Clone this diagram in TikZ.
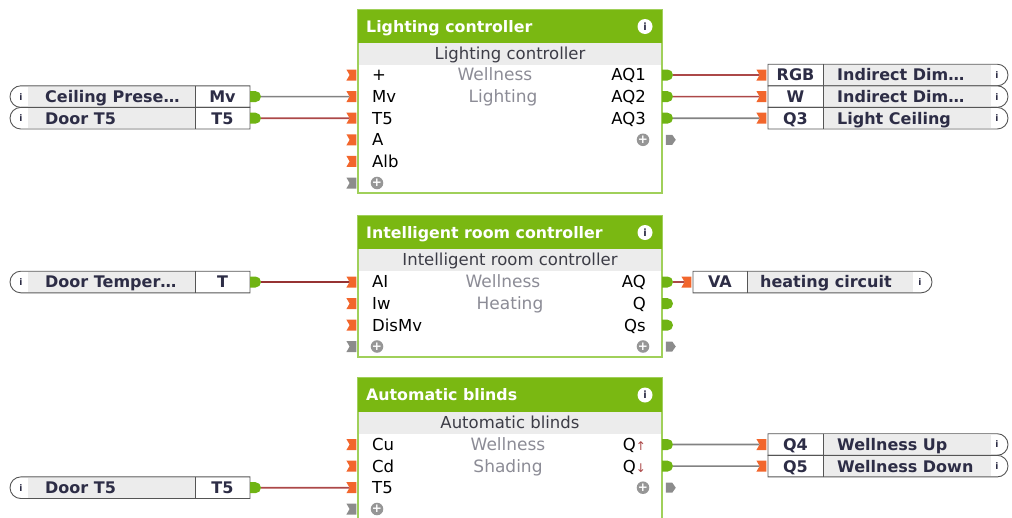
\documentclass[tikz,border=0pt]{standalone}
\usepackage{fontspec}
\setmainfont{DejaVu Sans}
\usepackage{tikz}
\usetikzlibrary{shapes.misc,shapes.symbols,positioning}
\usepackage{xcolor}
\definecolor{hdrgreen}{RGB}{122,184,18}
\definecolor{blkborder}{RGB}{160,208,90}
\definecolor{bandgrey}{RGB}{236,236,236}
\definecolor{pinorange}{RGB}{242,102,44}
\definecolor{pingreen}{RGB}{112,180,20}
\definecolor{pingrey}{RGB}{140,140,140}
\definecolor{addgrey}{RGB}{150,150,150}
\definecolor{wirered}{RGB}{172,72,72}
\definecolor{wiredark}{RGB}{150,50,50}
\definecolor{wiregrey}{RGB}{130,130,130}
\definecolor{boxline}{RGB}{85,85,85}
\definecolor{txtdark}{RGB}{45,45,70}
\definecolor{subtxt}{RGB}{60,60,70}
\definecolor{functxt}{RGB}{140,140,150}
\newcommand{\fsz}[1]{\fontsize{#1}{#1}\selectfont}

\begin{document}
\begin{tikzpicture}[x=1pt, y=-1pt,
    txt/.style={inner sep=0, text height=11.8pt, text depth=0pt},
    blk/.style={rectangle, draw=blkborder, line width=1.5pt, fill=white, inner sep=0},
    hdr/.style={rectangle, fill=hdrgreen, inner sep=0},
    band/.style={rectangle, fill=bandgrey, inner sep=0},
    hdrtext/.style={txt, anchor=west, text=white, font=\bfseries\fsz{15.8}},
    subtext/.style={txt, text=subtxt, font=\fsz{16.5}},
    inlbl/.style={txt, anchor=west, font=\fsz{16.5}},
    outlbl/.style={txt, anchor=east, font=\fsz{16.5}},
    func/.style={txt, text=functxt, font=\fsz{17}},
    info/.style={circle, fill=white, minimum size=15pt, inner sep=0, text=txtdark, font=\bfseries\fsz{10}},
    addbtn/.style={circle, fill=addgrey, minimum size=12pt, inner sep=0, text=white, font=\bfseries\fsz{12}},
    inpin/.style={signal, signal to=nowhere, signal from=west, signal pointer angle=120,
        fill=pinorange, minimum width=10pt, minimum height=11pt, inner sep=0},
    inpingrey/.style={inpin, fill=pingrey},
    outpin/.style={rounded rectangle, rounded rectangle west arc=none, fill=pingreen,
        minimum width=11pt, minimum height=11pt, inner sep=0},
    outpingrey/.style={signal, signal to=east, signal pointer angle=110, fill=pingrey,
        minimum width=10pt, minimum height=10pt, inner sep=0},
    inbox/.style={rounded rectangle, rounded rectangle east arc=none, draw=boxline,
        line width=0.9pt, fill=white, minimum width=240pt, minimum height=21.6pt, inner sep=0},
    outbox/.style={rounded rectangle, rounded rectangle west arc=none, draw=boxline,
        line width=0.9pt, fill=white, minimum width=240pt, minimum height=21.6pt, inner sep=0},
    boxfill/.style={rectangle, fill=bandgrey, minimum height=20pt, inner sep=0},
    boxtext/.style={txt, anchor=west, text=txtdark, font=\bfseries\fsz{16}},
    boxlbl/.style={txt, text=txtdark, font=\bfseries\fsz{16}},
    boxinfo/.style={inner sep=0, text height=6.8pt, text depth=0pt, text=txtdark, font=\bfseries\fsz{9}},
    wire/.style={line width=1.6pt, wiregrey},
    wirean/.style={line width=1.6pt, wirered}
]
    \clip (0,0) rectangle (1012,517);

    % Lighting controller
    \node[blk, minimum width=304pt, minimum height=183pt] (lc) at (510,101.5) {};
    \node[hdr, minimum width=304pt, minimum height=33pt] (lc-hdr) at (510,26.5) {};
    \node[band, minimum width=302pt, minimum height=21.5pt] (lc-band) at (510,53.8) {};
    \node[hdrtext] (lc-title) at (366,26.5) {Lighting controller};
    \node[info] (lc-info) at (645,26.5) {i};
    \node[subtext] (lc-sub) at (510,53.5) {Lighting controller};
    \node[func] (lc-f1) at (495,75) {Wellness};
    \node[func] (lc-f2) at (503,96.6) {Lighting};
    \foreach \lbl [count=\k] in {+,Mv,T5,A,Alb} {
        \node[inpin] (lc-i\k) at (353,53.4+21.6*\k) {};
        \node[inlbl] at (372,53.4+21.6*\k) {\lbl};
    }
    \node[inpingrey] (lc-iadd) at (353,183) {};
    \node[addbtn] (lc-add) at (377,183) {+};
    \foreach \lbl [count=\k] in {AQ1,AQ2,AQ3} {
        \node[outpin] (lc-o\k) at (667.5,53.4+21.6*\k) {};
        \node[outlbl] at (646,53.4+21.6*\k) {\lbl};
    }
    \node[addbtn] (lc-oadd) at (643,139.8) {+};
    \node[outpingrey] (lc-opin) at (669,139.8) {};

    % Intelligent room controller
    \node[blk, minimum width=304pt, minimum height=141pt] (irc) at (510,286.5) {};
    \node[hdr, minimum width=304pt, minimum height=33pt] (irc-hdr) at (510,232.5) {};
    \node[band, minimum width=302pt, minimum height=22pt] (irc-band) at (510,260) {};
    \node[hdrtext] (irc-title) at (366,232.5) {Intelligent room controller};
    \node[info] (irc-info) at (645,232.5) {i};
    \node[subtext] (irc-sub) at (510,259.5) {Intelligent room controller};
    \node[func] (irc-f1) at (503,282) {Wellness};
    \node[func] (irc-f2) at (510,303.6) {Heating};
    \foreach \lbl [count=\k] in {AI,Iw,DisMv} {
        \node[inpin] (irc-i\k) at (353,260.4+21.6*\k) {};
        \node[inlbl] at (372,260.4+21.6*\k) {\lbl};
    }
    \node[inpingrey] (irc-iadd) at (353,346.5) {};
    \node[addbtn] (irc-add) at (377,346.5) {+};
    \foreach \lbl [count=\k] in {AQ,Q,Qs} {
        \node[outpin] (irc-o\k) at (667.5,260.4+21.6*\k) {};
        \node[outlbl] at (646,260.4+21.6*\k) {\lbl};
    }
    \node[addbtn] (irc-oadd) at (643,346.5) {+};
    \node[outpingrey] (irc-opin) at (669,346.5) {};

    % Automatic blinds
    \node[blk, minimum width=304pt, minimum height=152pt] (ab) at (510,454) {};
    \node[hdr, minimum width=304pt, minimum height=34pt] (ab-hdr) at (510,395) {};
    \node[band, minimum width=302pt, minimum height=22pt] (ab-band) at (510,423) {};
    \node[hdrtext] (ab-title) at (366,395) {Automatic blinds};
    \node[info] (ab-info) at (645,395) {i};
    \node[subtext] (ab-sub) at (510,422.5) {Automatic blinds};
    \node[func] (ab-f1) at (508,444.5) {Wellness};
    \node[func] (ab-f2) at (508,466.1) {Shading};
    \foreach \lbl [count=\k] in {Cu,Cd,T5} {
        \node[inpin] (ab-i\k) at (353,422.9+21.6*\k) {};
        \node[inlbl] at (372,422.9+21.6*\k) {\lbl};
    }
    \node[inpingrey] (ab-iadd) at (353,509) {};
    \node[addbtn] (ab-add) at (377,509) {+};
    \node[outpin] (ab-o1) at (667.5,444.5) {};
    \node[outlbl] at (646,444.5) {Q\textcolor{wirered}{\fsz{12}↑}};
    \node[outpin] (ab-o2) at (667.5,466.1) {};
    \node[outlbl] at (646,466.1) {Q\textcolor{wirered}{\fsz{12}↓}};
    \node[addbtn] (ab-oadd) at (643,487.7) {+};
    \node[outpingrey] (ab-opin) at (669,487.7) {};

    % inputs on the left
    \foreach \nm/\yy/\txt/\lbl in {cp/96.6/Ceiling Prese…/Mv, dt5/118.2/Door T5/T5,
            dtemp/282/Door Temper…/T, dt5b/487.7/Door T5/T5} {
        \node[inbox] (\nm) at (130,\yy) {};
        \node[boxfill, minimum width=167pt] at (111.5,\yy) {};
        \draw[boxline, line width=0.9pt] (195,\yy-10.8) -- (195,\yy+10.8);
        \node[boxinfo] at (21,\yy) {i};
        \node[boxtext] at (45,\yy) {\txt};
        \node[boxlbl] at (222.5,\yy) {\lbl};
        \node[outpin] (\nm-o) at (255.5,\yy) {};
    }

    % outputs on the right
    \foreach \nm/\yy/\txt/\lbl in {rgb/75/Indirect Dim…/RGB, w/96.6/Indirect Dim…/W,
            q3/118.2/Light Ceiling/Q3, q4/444.5/Wellness Up/Q4, q5/466.1/Wellness Down/Q5} {
        \node[outbox] (\nm) at (888,\yy) {};
        \node[boxfill, minimum width=168pt] at (907,\yy) {};
        \draw[boxline, line width=0.9pt] (823,\yy-10.8) -- (823,\yy+10.8);
        \node[boxinfo] at (997,\yy) {i};
        \node[boxtext] at (837,\yy) {\txt};
        \node[boxlbl] at (795.5,\yy) {\lbl};
        \node[inpin] (\nm-i) at (763,\yy) {};
    }
    \node[outbox, minimum width=239pt] (va) at (812.5,282) {};
    \node[boxfill, minimum width=166pt] at (830,282) {};
    \draw[boxline, line width=0.9pt] (747,271.2) -- (747,292.8);
    \node[boxinfo] at (920,282) {i};
    \node[boxtext] at (760,282) {heating circuit};
    \node[boxlbl] at (720,282) {VA};
    \node[inpin] (va-i) at (688,282) {};

    % connections
    \draw[wire] (cp-o) -- (lc-i2);
    \draw[wirean] (dt5-o) -- (lc-i3);
    \draw[wirean] (lc-o1) -- (rgb-i);
    \draw[wirean] (lc-o2) -- (w-i);
    \draw[wire] (lc-o3) -- (q3-i);
    \draw[wirean, wiredark] (dtemp-o) -- (irc-i1);
    \draw[wirean] (irc-o1) -- (va-i);
    \draw[wire] (ab-o1) -- (q4-i);
    \draw[wire] (ab-o2) -- (q5-i);
    \draw[wirean] (dt5b-o) -- (ab-i3);
\end{tikzpicture}
\end{document}
